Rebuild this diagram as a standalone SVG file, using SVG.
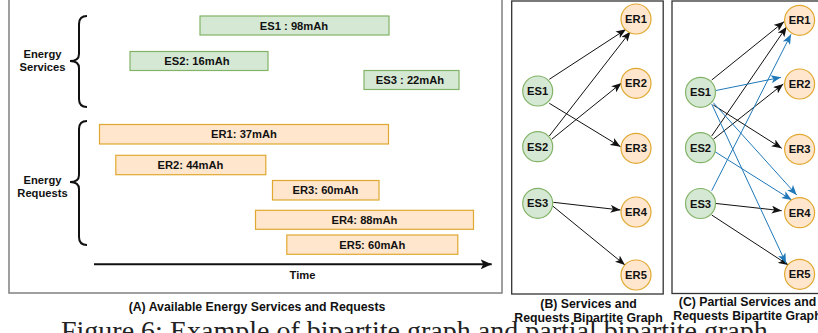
<svg xmlns="http://www.w3.org/2000/svg" width="818" height="333" viewBox="0 0 818 333">
  <style>
    text { font-family: "Liberation Sans", Arial, sans-serif; font-weight: bold; fill: #111; }
    .lbl { font-size: 11.2px; text-anchor: middle; }
    .cap { font-size: 12.3px; text-anchor: middle; }
    .fig { font-family: "Liberation Serif", "Times New Roman", serif; font-weight: normal; font-size: 28px; fill: #222; }
    .panelA { fill: none; stroke: #808080; stroke-width: 1.5; }
    .panel { fill: none; stroke: #333; stroke-width: 1.3; }
    .es { fill: #d5e8d4; stroke: #82b366; stroke-width: 1.2; }
    .er { fill: #ffe6cc; stroke: #e0a830; stroke-width: 1.2; }
    .brace { fill: none; stroke: #111; stroke-width: 2; }
    .edge { fill: none; stroke: #111; stroke-width: 1; marker-end: url(#arrowK); }
    .blue { fill: none; stroke: #1f78b8; stroke-width: 1; marker-end: url(#arrowB); }
  </style>
  <defs>
    <marker id="arrowK" viewBox="0 0 10 8" refX="10" refY="4" markerWidth="10" markerHeight="8" markerUnits="userSpaceOnUse" orient="auto">
      <path d="M0,0 L10,4 L0,8 L2.5,4 z" fill="#111"/>
    </marker>
    <marker id="arrowB" viewBox="0 0 10 8" refX="10" refY="4" markerWidth="10" markerHeight="8" markerUnits="userSpaceOnUse" orient="auto">
      <path d="M0,0 L10,4 L0,8 L2.5,4 z" fill="#1f78b8"/>
    </marker>
    <marker id="arrowT" viewBox="0 0 11 10" refX="11" refY="5" markerWidth="11" markerHeight="10" markerUnits="userSpaceOnUse" orient="auto">
      <path d="M0,0 L11,5 L0,10 L2.5,5 z" fill="#111"/>
    </marker>
  </defs>

  <rect width="818" height="333" fill="#fff"/>

  <!-- Panel A: time line of services and requests -->
  <g id="panelA">
    <rect class="panelA" x="9" y="-5" width="493" height="298"/>
    <g id="brace-services">
      <path class="brace" d="M87,16 Q79,16 79,24 L79,54 Q79,61 70,61 Q79,61 79,68 L79,99 Q79,107 87,107"/>
      <text class="lbl" x="42.5" y="58">Energy</text>
      <text class="lbl" x="42.5" y="71">Services</text>
    </g>
    <g id="brace-requests">
      <path class="brace" d="M87,121 Q79,121 79,129 L79,175 Q79,182 70,182 Q79,182 79,189 L79,237 Q79,245 87,245"/>
      <text class="lbl" x="42.5" y="184">Energy</text>
      <text class="lbl" x="42.5" y="196.5">Requests</text>
    </g>
    <g id="bar-ES1"><rect class="es" x="200" y="16" width="189" height="19"/><text class="lbl" x="294" y="29.5">ES1 : 98mAh</text></g>
    <g id="bar-ES2"><rect class="es" x="130" y="51.5" width="138" height="19"/><text class="lbl" x="197" y="65">ES2: 16mAh</text></g>
    <g id="bar-ES3"><rect class="es" x="364" y="70.5" width="95" height="19"/><text class="lbl" x="410" y="84">ES3 : 22mAh</text></g>
    <g id="bar-ER1"><rect class="er" x="99.5" y="124.5" width="289" height="19.5"/><text class="lbl" x="244" y="138.2">ER1: 37mAh</text></g>
    <g id="bar-ER2"><rect class="er" x="115.8" y="155.3" width="150" height="19.4"/><text class="lbl" x="190.5" y="169">ER2: 44mAh</text></g>
    <g id="bar-ER3"><rect class="er" x="272.5" y="180.5" width="106.5" height="19.5"/><text class="lbl" x="325.5" y="194.2">ER3: 60mAh</text></g>
    <g id="bar-ER4"><rect class="er" x="255.5" y="210.3" width="218" height="19"/><text class="lbl" x="364.5" y="223.8">ER4: 88mAh</text></g>
    <g id="bar-ER5"><rect class="er" x="286.8" y="235" width="171" height="19.3"/><text class="lbl" x="372.3" y="248.6">ER5: 60mAh</text></g>
    <g id="time-axis">
      <line x1="94" y1="264.3" x2="491.7" y2="264.3" stroke="#111" stroke-width="2" marker-end="url(#arrowT)"/>
      <text class="lbl" x="302.5" y="279.3">Time</text>
    </g>
  </g>

  <!-- Panel B: bipartite graph -->
  <rect class="panel" x="511.7" y="1" width="151.5" height="293"/>
  <g id="edgesB">
    <line class="edge" x1="549.3" y1="79.3" x2="626" y2="29.3"/>
    <line class="edge" x1="549.3" y1="136" x2="630.5" y2="31.5"/>
    <line class="edge" x1="551.7" y1="139.3" x2="621.5" y2="83"/>
    <line class="edge" x1="549.3" y1="103.3" x2="620.5" y2="146.7"/>
    <line class="edge" x1="553.3" y1="202.3" x2="620.5" y2="210"/>
    <line class="edge" x1="552.3" y1="205.7" x2="625" y2="265"/>
  </g>
  <g id="B-ES1"><circle class="es" cx="537.7" cy="91" r="15"/><text class="lbl" x="537.7" y="95">ES1</text></g>
  <g id="B-ES2"><circle class="es" cx="537.7" cy="146.7" r="15"/><text class="lbl" x="537.7" y="150.7">ES2</text></g>
  <g id="B-ES3"><circle class="es" cx="537.7" cy="203.3" r="15"/><text class="lbl" x="537.7" y="207.3">ES3</text></g>
  <g id="B-ER1"><circle class="er" cx="636" cy="19" r="15"/><text class="lbl" x="636" y="23">ER1</text></g>
  <g id="B-ER2"><circle class="er" cx="636" cy="83.3" r="15"/><text class="lbl" x="636" y="87.3">ER2</text></g>
  <g id="B-ER3"><circle class="er" cx="636" cy="148.3" r="15"/><text class="lbl" x="636" y="152.3">ER3</text></g>
  <g id="B-ER4"><circle class="er" cx="636" cy="212" r="15"/><text class="lbl" x="636" y="216">ER4</text></g>
  <g id="B-ER5"><circle class="er" cx="636" cy="275" r="15"/><text class="lbl" x="636" y="279">ER5</text></g>

  <!-- Panel C: partial bipartite graph -->
  <rect class="panel" x="672" y="1" width="160" height="292.5"/>
  <g id="edgesC">
    <line class="edge" x1="711.7" y1="80" x2="784" y2="21.7"/>
    <line class="edge" x1="711.7" y1="136" x2="786.7" y2="26.7"/>
    <line class="edge" x1="713.3" y1="139.3" x2="783.3" y2="84"/>
    <line class="edge" x1="713.3" y1="105" x2="781.7" y2="148.3"/>
    <line class="edge" x1="714.3" y1="203.3" x2="781.7" y2="210.7"/>
    <line class="edge" x1="711.7" y1="215" x2="788.3" y2="265"/>
    <line class="blue" x1="715" y1="90.7" x2="781" y2="77.3"/>
    <line class="blue" x1="711.7" y1="190.7" x2="791" y2="34.3"/>
    <line class="blue" x1="713.3" y1="102.7" x2="796.7" y2="195"/>
    <line class="blue" x1="711.7" y1="104" x2="786" y2="263.3"/>
    <line class="blue" x1="715" y1="151.7" x2="791.7" y2="200"/>
  </g>
  <g id="C-ES1"><circle class="es" cx="700.5" cy="92.3" r="15"/><text class="lbl" x="700.5" y="96.3">ES1</text></g>
  <g id="C-ES2"><circle class="es" cx="700.5" cy="147.7" r="15"/><text class="lbl" x="700.5" y="151.7">ES2</text></g>
  <g id="C-ES3"><circle class="es" cx="700.5" cy="203.5" r="15"/><text class="lbl" x="700.5" y="207.5">ES3</text></g>
  <g id="C-ER1"><circle class="er" cx="799.6" cy="20.3" r="15"/><text class="lbl" x="799.6" y="24.3">ER1</text></g>
  <g id="C-ER2"><circle class="er" cx="799.6" cy="84" r="15"/><text class="lbl" x="799.6" y="88">ER2</text></g>
  <g id="C-ER3"><circle class="er" cx="799.6" cy="149.3" r="15"/><text class="lbl" x="799.6" y="153.3">ER3</text></g>
  <g id="C-ER4"><circle class="er" cx="799.6" cy="212.7" r="15"/><text class="lbl" x="799.6" y="216.7">ER4</text></g>
  <g id="C-ER5"><circle class="er" cx="799.6" cy="274.3" r="15"/><text class="lbl" x="799.6" y="278.3">ER5</text></g>

  <!-- captions -->
  <text class="cap" x="257" y="310.5">(A) Available Energy Services and Requests</text>
  <text class="cap" x="588.5" y="308.3">(B) Services and</text>
  <text class="cap" x="588.5" y="321.6">Requests Bipartite Graph</text>
  <text class="cap" x="747.5" y="306">(C) Partial Services and</text>
  <text class="cap" x="747.5" y="320">Requests Bipartite Graph</text>
  <text class="fig" x="61" y="340">Figure 6: Example of bipartite graph and partial bipartite graph</text>
</svg>
